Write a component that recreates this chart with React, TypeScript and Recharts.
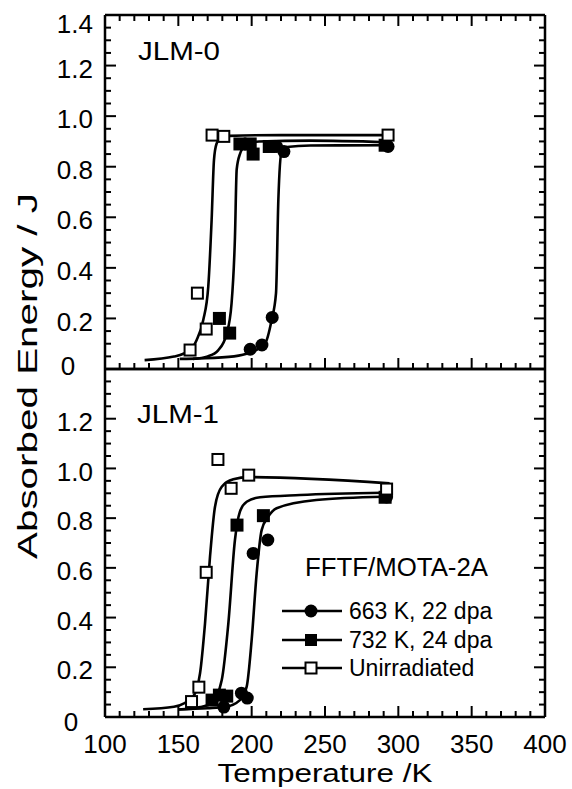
import React from "react";
import { ComposedChart, Line, Scatter, XAxis, YAxis, Label } from "recharts";

const W = 572;
const H = 789;
const FONT = "'Liberation Sans', Arial, Helvetica, sans-serif";

// axis ticks
const xTicks = Array.from({ length: 31 }, (_, i) => 100 + i * 10);
const yTicks = Array.from({ length: 29 }, (_, i) => Math.round(i * 5) / 100);

// JLM-0 measured points [T (K), E (J)]
const jlm0Unirr = [[158, 0.075], [163, 0.3], [169, 0.158], [173, 0.925], [181, 0.92], [293, 0.925]];
const jlm0K732 = [[178, 0.2], [185, 0.142], [192, 0.89], [199, 0.89], [201, 0.85], [212, 0.88], [291, 0.885]];
const jlm0K663 = [[199, 0.078], [207, 0.095], [214, 0.204], [217, 0.88], [222, 0.86], [293, 0.88]];

// JLM-0 fitted curves
const jlm0FitUnirr = [[127, 0.035], [147, 0.049], [158, 0.075], [162.5, 0.115], [167, 0.194], [170.4, 0.325], [172.7, 0.59], [174.3, 0.826], [176, 0.89], [179, 0.915], [185, 0.922], [220, 0.925], [294, 0.925]];
const jlm0Fit732 = [[160, 0.04], [170, 0.05], [177.3, 0.075], [183, 0.14], [186.3, 0.26], [188.6, 0.52], [189.8, 0.79], [192, 0.85], [196, 0.885], [205, 0.9], [240, 0.903], [292, 0.897]];
const jlm0Fit663 = [[151, 0.04], [165, 0.042], [188, 0.05], [198.8, 0.065], [209, 0.1], [213.6, 0.194], [216.6, 0.3], [218.2, 0.67], [220.4, 0.86], [224, 0.878], [240, 0.884], [293, 0.885]];

// JLM-1 measured points
const jlm1Unirr = [[159, 0.062], [164, 0.12], [169, 0.582], [177, 1.036], [186, 0.92], [198, 0.973], [292, 0.917]];
const jlm1K732 = [[173, 0.068], [178, 0.088], [183, 0.084], [190, 0.772], [208, 0.81], [291, 0.884]];
const jlm1K663 = [[181, 0.04], [193, 0.096], [197, 0.076], [201, 0.658], [211, 0.712], [292, 0.885]];

// JLM-1 fitted curves
const jlm1FitUnirr = [[126, 0.031], [147, 0.041], [160, 0.082], [164.8, 0.176], [168.2, 0.377], [171.6, 0.645], [175, 0.846], [179.6, 0.926], [187.5, 0.956], [198, 0.965], [294, 0.94]];
const jlm1Fit732 = [[150, 0.03], [165, 0.04], [172.7, 0.056], [179.6, 0.149], [184.1, 0.377], [188.6, 0.712], [192, 0.826], [196.6, 0.866], [205.7, 0.884], [233, 0.893], [290, 0.902]];
const jlm1Fit663 = [[150, 0.03], [170, 0.035], [181.8, 0.04], [192, 0.068], [196.6, 0.122], [200, 0.31], [203.4, 0.578], [206.8, 0.752], [211.3, 0.806], [217, 0.84], [244, 0.873], [290, 0.886]];

const legendNames = ["663 K, 22 dpa", "732 K, 24 dpa", "Unirradiated"];

type Row = { x: number; y: number };
const rows = (a: number[][]): Row[] => a.map(([x, y]) => ({ x, y }));

const axisStyle = { stroke: "#000", strokeWidth: 2.5 };

const Circle = (p: any) => <circle cx={p.cx} cy={p.cy} r={6.5} fill="#000" />;
const FilledSq = (p: any) => <rect x={p.cx - 6.5} y={p.cy - 6.5} width={13} height={13} fill="#000" />;
const OpenSq = (p: any) => (
  <rect x={p.cx - 5.5} y={p.cy - 5.5} width={11} height={11} fill="#fff" stroke="#000" strokeWidth={2} />
);

const isMajor = (v: number, step: number) => Math.abs(v / step - Math.round(v / step)) < 1e-6;

function XTick(p: any) {
  const { x, y, payload, dir, labels } = p;
  const v = payload.value;
  const major = isMajor(v, 50);
  const len = major ? 11 : 6;
  return (
    <g>
      <line x1={x} x2={x} y1={y} y2={y + dir * len} stroke="#000" strokeWidth={2} />
      {labels && major && (
        <text x={x} y={y + 27} dy="0.35em" textAnchor="middle" fontFamily={FONT} fontSize={26} fill="#000">
          {v}
        </text>
      )}
    </g>
  );
}

function YTick(p: any) {
  const { x, y, payload, dir, labels, topDy, zeroDx, zeroDy, skipTop } = p;
  const v = payload.value;
  const major = isMajor(v, 0.2);
  const len = major ? 11 : 6;
  if (skipTop && v > 1.39) return <g />;
  let label = null;
  if (labels && major) {
    if (v === 0) {
      label = (
        <text x={x - zeroDx} y={y + zeroDy} dy="0.35em" textAnchor="middle" fontFamily={FONT} fontSize={26} fill="#000">
          0
        </text>
      );
    } else {
      label = (
        <text x={x - 12} y={y + (v > 1.39 ? topDy : 3)} dy="0.35em" textAnchor="end" fontFamily={FONT} fontSize={26} fill="#000">
          {v.toFixed(1)}
        </text>
      );
    }
  }
  return (
    <g>
      <line x1={x} x2={x + dir * len} y1={y} y2={y} stroke="#000" strokeWidth={2} />
      {label}
    </g>
  );
}

function PanelName({ text, x, y }: { text: string; x: number; y: number }) {
  return (
    <text x={x} y={y} fontFamily={FONT} fontSize={25} fill="#000" textLength={82} lengthAdjust="spacingAndGlyphs">
      {text}
    </text>
  );
}

function LegendBox() {
  const rowsY = [611, 640, 668];
  const shapes = [
    <circle key="c" cx={311} cy={rowsY[0]} r={6.5} fill="#000" />,
    <rect key="f" x={305} y={rowsY[1] - 6} width={12} height={12} fill="#000" />,
    <rect key="o" x={305.5} y={rowsY[2] - 5.5} width={11} height={11} fill="#fff" stroke="#000" strokeWidth={2} />,
  ];
  return (
    <g>
      <text x={305} y={576} fontFamily={FONT} fontSize={25} fill="#000" textLength={183} lengthAdjust="spacingAndGlyphs">
        FFTF/MOTA-2A
      </text>
      {legendNames.map((n, i) => (
        <g key={n}>
          <line x1={282} x2={342} y1={rowsY[i]} y2={rowsY[i]} stroke="#000" strokeWidth={2.5} />
          {shapes[i]}
          <text x={349} y={rowsY[i] + 8} fontFamily={FONT} fontSize={23} fill="#000">
            {n}
          </text>
        </g>
      ))}
    </g>
  );
}

type PanelProps = {
  top: number;
  bottom: number;
  unirr: number[][];
  k732: number[][];
  k663: number[][];
  fitUnirr: number[][];
  fit732: number[][];
  fit663: number[][];
  first: boolean;
};

function Panel(props: PanelProps) {
  const { top, bottom, first } = props;
  const lineProps = {
    xAxisId: "b",
    yAxisId: "l",
    dataKey: "y",
    type: "monotone" as const,
    stroke: "#000",
    strokeWidth: 2.6,
    dot: false,
    isAnimationActive: false,
  };
  // axes take 1px each; margins are reduced accordingly
  return (
    <div style={{ position: "absolute", left: 0, top: 0 }}>
      <ComposedChart width={W} height={H} margin={{ top: top - 1, right: 26, bottom: H - bottom - 1, left: 104 }}>
        <XAxis
          xAxisId="b"
          type="number"
          dataKey="x"
          domain={[100, 400]}
          allowDataOverflow
          ticks={xTicks}
          interval={0}
          height={1}
          tickSize={0}
          tickMargin={0}
          axisLine={axisStyle}
          tick={(p: any) => <XTick {...p} dir={-1} labels={!first} />}
        >
          <Label
            content={() =>
              first ? (
                <PanelName text="JLM-0" x={138} y={60} />
              ) : (
                <text x={325} y={782} textAnchor="middle" fontFamily={FONT} fontSize={26} fill="#000" textLength={215} lengthAdjust="spacingAndGlyphs">
                  Temperature /K
                </text>
              )
            }
          />
        </XAxis>
        <XAxis
          xAxisId="t"
          orientation="top"
          type="number"
          dataKey="x"
          domain={[100, 400]}
          allowDataOverflow
          ticks={first ? xTicks : [100]}
          interval={0}
          height={1}
          tickSize={0}
          tickMargin={0}
          axisLine={axisStyle}
          tick={(p: any) => (first ? <XTick {...p} dir={1} labels={false} /> : <g />)}
        >
          <Label content={() => (first ? <g /> : <PanelName text="JLM-1" x={137} y={423} />)} />
        </XAxis>
        <YAxis
          yAxisId="l"
          type="number"
          dataKey="y"
          domain={[0, 1.4]}
          allowDataOverflow
          ticks={yTicks}
          interval={0}
          width={1}
          tickSize={0}
          tickMargin={0}
          axisLine={axisStyle}
          tick={(p: any) => (
            <YTick
              {...p}
              dir={1}
              labels
              topDy={9}
              skipTop={!first}
              zeroDx={first ? 37 : 34}
              zeroDy={first ? -3 : 5}
            />
          )}
        >
          <Label
            content={() =>
              first ? (
                <text
                  x={37}
                  y={376}
                  transform="rotate(-90, 37, 376)"
                  textAnchor="middle"
                  fontFamily={FONT}
                  fontSize={27}
                  fill="#000"
                  textLength={366}
                  lengthAdjust="spacingAndGlyphs"
                >
                  Absorbed Energy / J
                </text>
              ) : (
                <g />
              )
            }
          />
        </YAxis>
        <YAxis
          yAxisId="r"
          orientation="right"
          type="number"
          dataKey="y"
          domain={[0, 1.4]}
          allowDataOverflow
          ticks={yTicks}
          interval={0}
          width={1}
          tickSize={0}
          tickMargin={0}
          axisLine={axisStyle}
          tick={(p: any) => <YTick {...p} dir={-1} labels={false} skipTop={!first} />}
        >
          <Label content={() => (first ? <g /> : <LegendBox />)} />
        </YAxis>

        <Line {...lineProps} name="fit unirr" data={rows(props.fitUnirr)} />
        <Line {...lineProps} name="fit 732" data={rows(props.fit732)} />
        <Line {...lineProps} name="fit 663" data={rows(props.fit663)} />

        <Scatter xAxisId="b" yAxisId="l" name="663 K" data={rows(props.k663)} shape={Circle} isAnimationActive={false} />
        <Scatter xAxisId="b" yAxisId="l" name="732 K" data={rows(props.k732)} shape={FilledSq} isAnimationActive={false} />
        <Scatter xAxisId="b" yAxisId="l" name="Unirradiated" data={rows(props.unirr)} shape={OpenSq} isAnimationActive={false} />
      </ComposedChart>
    </div>
  );
}

export default function App() {
  return (
    <div style={{ position: "absolute", left: 0, top: 0, width: W, height: H, background: "#fff" }}>
      <Panel
        top={15}
        bottom={369}
        first
        unirr={jlm0Unirr}
        k732={jlm0K732}
        k663={jlm0K663}
        fitUnirr={jlm0FitUnirr}
        fit732={jlm0Fit732}
        fit663={jlm0Fit663}
      />
      <Panel
        top={369}
        bottom={717}
        first={false}
        unirr={jlm1Unirr}
        k732={jlm1K732}
        k663={jlm1K663}
        fitUnirr={jlm1FitUnirr}
        fit732={jlm1Fit732}
        fit663={jlm1Fit663}
      />
    </div>
  );
}
